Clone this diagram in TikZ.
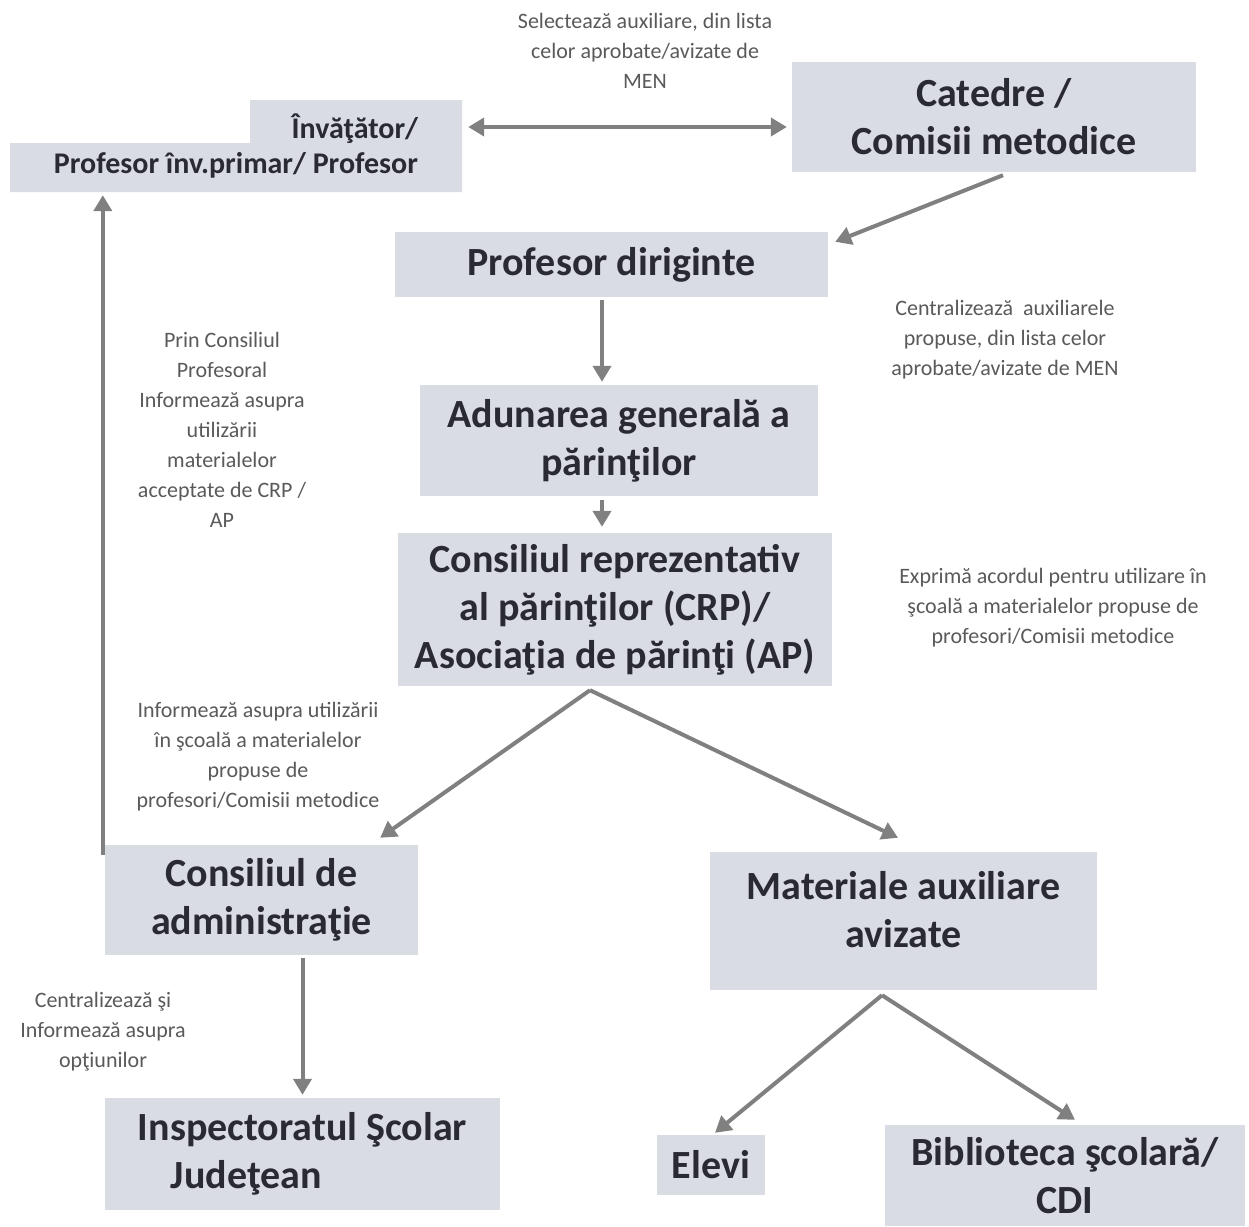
\documentclass[tikz,border=0pt]{standalone}
\usepackage{fontspec}
\setmainfont{Carlito}
\usetikzlibrary{arrows.meta,calc}
\definecolor{boxfill}{HTML}{DADCE3}
\definecolor{boxtext}{HTML}{2A2A32}
\definecolor{lbltext}{HTML}{5A5A5A}
\definecolor{arrowc}{HTML}{808080}
\begin{document}
\begin{tikzpicture}[x=1pt,y=-1pt,
  box/.style={fill=boxfill, inner sep=0pt, text=boxtext, align=center,
    font=\bfseries\fontsize{40}{48}\selectfont},
  lbl/.style={inner sep=0pt, text=lbltext, align=center,
    font=\fontsize{22}{30}\selectfont},
  arr/.style={draw=arrowc, line width=4pt, -{Triangle[length=16pt,width=18pt]}},
  darr/.style={draw=arrowc, line width=4pt, {Triangle[length=16pt,width=18pt]}-{Triangle[length=16pt,width=18pt]}}]
\useasboundingbox[fill=white] (0,0) rectangle (1249,1226);

% step-shaped background of the first box
\fill[boxfill] (10,143) -| (250,100) -| (462,192) -| cycle;
\node[inner sep=0pt, text=boxtext, align=right, font=\bfseries\fontsize{30}{35}\selectfont,
  minimum width=452, minimum height=92] (inv) at (236,146) {Învăţător/\\Profesor înv.primar/ Profesor};

\node[box, minimum width=404, minimum height=110] (cat) at (994,117) {Catedre /\\Comisii metodice};
\node[box, minimum width=433, minimum height=65] (dir) at (611.5,264.5) {Profesor diriginte};
\node[box, minimum width=398, minimum height=111] (adu) at (619,440.5) {Adunarea generală a\\părinţilor};
\node[box, minimum width=434, minimum height=153] (crp) at (615,609.5) {Consiliul reprezentativ\\al părinţilor (CRP)/\\Asociaţia de părinţi (AP)};
\node[box, minimum width=313, minimum height=110] (cda) at (261.5,900) {Consiliul de\\administraţie};
\node[box, minimum width=387, minimum height=138, text depth=24pt] (mat) at (903.5,921) {Materiale auxiliare\\avizate};
\node[box, minimum width=395, minimum height=112, align=left] (isj) at (302.5,1154) {Inspectoratul Şcolar\\\hspace*{33pt}Judeţean};
\node[box, minimum width=108, minimum height=60] (elevi) at (711,1165) {Elevi};
\node[box, minimum width=360, minimum height=101] (bib) at (1065,1175.5) {Biblioteca şcolară/\\CDI};

% labels
\node[lbl] (selL) at (645,51) {Selectează auxiliare, din lista\\celor aprobate/avizate de\\MEN};
\node[lbl] (centL) at (1005,340) {Centralizează~ auxiliarele\\propuse, din lista celor\\aprobate/avizate de MEN};
\node[lbl] (exprL) at (1053,608) {Exprimă acordul pentru utilizare în\\şcoală a materialelor propuse de\\profesori/Comisii metodice};
\node[lbl] (prinL) at (222,430) {Prin Consiliul\\Profesoral\\Informează asupra\\utilizării\\materialelor\\acceptate de CRP /\\AP};
\node[lbl] (infL) at (258,757) {Informează asupra utilizării\\în şcoală a materialelor\\propuse de\\profesori/Comisii metodice};
\node[lbl] (centSiL) at (103,1032) {Centralizează şi\\Informează asupra\\opţiunilor};

% connectors
\draw[darr] ($(inv.east)+(6,-19)$) -- ($(cat.west)+(-5,10)$);
\draw[arr] ($(cat.south)+(9,3)$) -- ($(dir.north east)+(7,10)$);
\draw[arr] ($(dir.south)+(-9.5,3)$) -- ($(adu.north)+(-17,-3)$);
\draw[arr] ($(adu.south)+(-17,4)$) -- ($(crp.north)+(-13,-6)$);
\draw[arr] ($(crp.south)+(-25,4)$) -- ($(cda.north east)+(-38,-7)$);
\draw[arr] ($(crp.south)+(-25,4)$) -- ($(mat.north)+(-5.5,-14)$);
\draw[arr] ($(cda.north west)+(-2,10)$) -- ($(cda.north west |- inv.south)+(-2,3)$);
\draw[arr] ($(isj.north |- cda.south)+(0,3)$) -- ($(isj.north)+(0,-3)$);
\draw[arr] ($(mat.south)+(-21.5,5)$) -- ($(elevi.north)+(4,-2)$);
\draw[arr] ($(mat.south)+(-21.5,5)$) -- ($(bib.north)+(10,-5)$);
\end{tikzpicture}
\end{document}
